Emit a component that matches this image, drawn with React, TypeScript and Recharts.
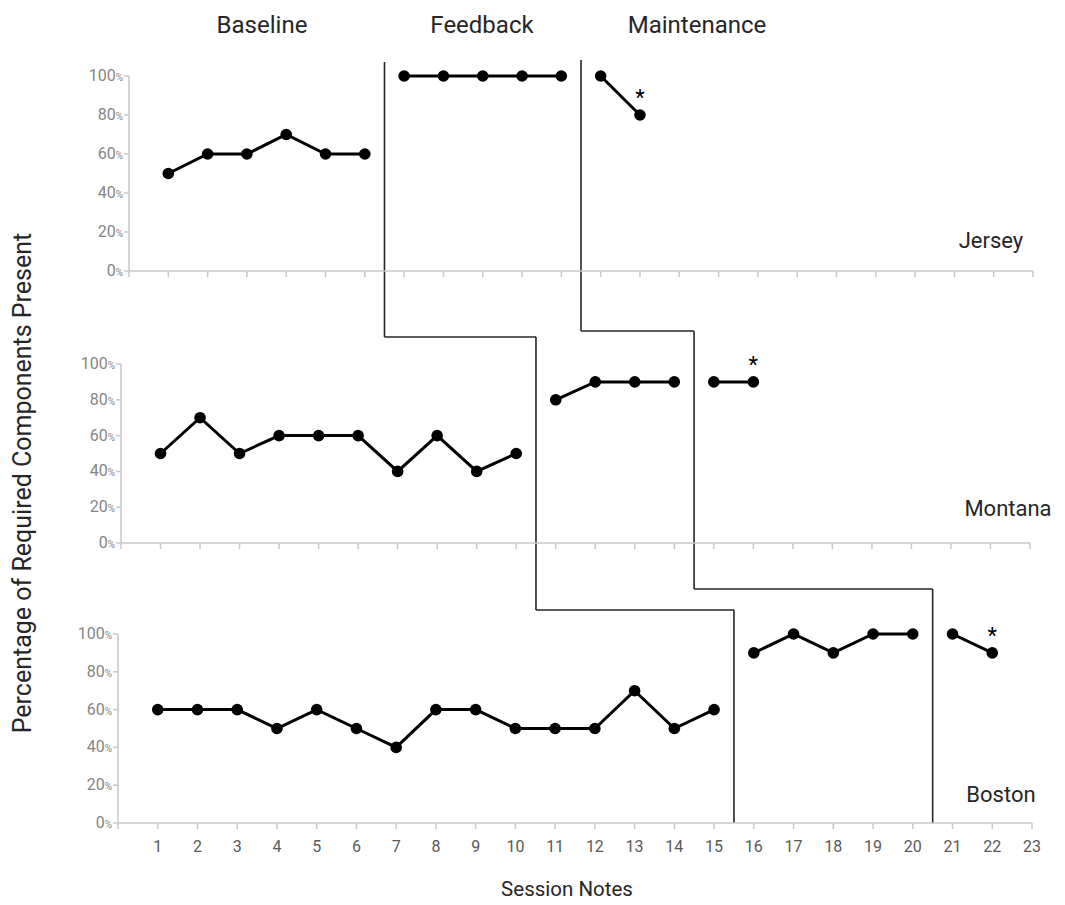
import React from 'react';
import { LineChart, Line, XAxis, YAxis, ReferenceLine } from 'recharts';

// percentage of required components, one array per participant and phase
const JERSEY_BASELINE = [50, 60, 60, 70, 60, 60];
const JERSEY_FEEDBACK = [100, 100, 100, 100, 100];
const JERSEY_MAINTENANCE = [100, 80];

const MONTANA_BASELINE = [50, 70, 50, 60, 60, 60, 40, 60, 40, 50];
const MONTANA_FEEDBACK = [80, 90, 90, 90];
const MONTANA_MAINTENANCE = [90, 90];

const BOSTON_BASELINE = [60, 60, 60, 50, 60, 50, 40, 60, 60, 50, 50, 50, 70, 50, 60];
const BOSTON_FEEDBACK = [90, 100, 90, 100, 100];
const BOSTON_MAINTENANCE = [100, 90];

const PHASE_NAMES = ['Baseline', 'Feedback', 'Maintenance'];
const PARTICIPANTS = ['Jersey', 'Montana', 'Boston'];
const SESSION_TICKS = [0, 1, 2, 3, 4, 5, 6, 7, 8, 9, 10, 11, 12, 13, 14, 15, 16, 17, 18, 19, 20, 21, 22, 23];
const PCT_TICKS = [0, 20, 40, 60, 80, 100];

const W = 1065;
const H = 905;
const Y_AXIS_W = 50;
const X_AXIS_H = 30;
const FONT = 'Roboto, "Noto Sans", sans-serif';

// plot boxes of the three stacked panels
const GEOM = [
  { left: 129, right: 1033, top: 76, bottom: 271 },
  { left: 121, right: 1030, top: 364, bottom: 543 },
  { left: 118, right: 1032, top: 634, bottom: 823 },
];
// pixel heights where each phase-change line starts, steps and ends
const STEP_LEVELS = [
  [62, 337, 610, 823],
  [60, 331, 589, 823],
];
const NAME_POS = [
  { x: 991, y: 240 },
  { x: 1008, y: 508 },
  { x: 1001, y: 794 },
];
const PHASE_TITLE_X = [262, 482, 697];

type Pt = { session: number; pct: number };

const buildPhases = (phases: number[][]): Pt[][] => {
  let s = 1;
  return phases.map((vals) => {
    const pts = vals.map((v, i) => ({ session: s + i, pct: v }));
    s += vals.length;
    return pts;
  });
};

const PANELS = [
  buildPhases([JERSEY_BASELINE, JERSEY_FEEDBACK, JERSEY_MAINTENANCE]),
  buildPhases([MONTANA_BASELINE, MONTANA_FEEDBACK, MONTANA_MAINTENANCE]),
  buildPhases([BOSTON_BASELINE, BOSTON_FEEDBACK, BOSTON_MAINTENANCE]),
];

// phase change sits half a session after each phase's last point
const boundaries = (phases: Pt[][]) =>
  [0, 1].map((k) => phases[k][phases[k].length - 1].session + 0.5);

const pxToPct = (g: typeof GEOM[0], py: number) => ((g.bottom - py) / (g.bottom - g.top)) * 100;
const sessionToPx = (g: typeof GEOM[0], s: number) => g.left + (s / 23) * (g.right - g.left);
const pxToSession = (g: typeof GEOM[0], px: number) => ((px - g.left) / (g.right - g.left)) * 23;

const PctTick = (props: any) => {
  const { x, y, payload } = props;
  return (
    <text x={x} y={y} dy={5} textAnchor="end" fill="#858585" fontFamily={FONT}>
      <tspan fontSize={16}>{payload.value}</tspan>
      <tspan fontSize={10}>%</tspan>
    </text>
  );
};

const starLabel = (last: number) => (props: any) => {
  const { x, y, index } = props;
  if (index !== last) return <g />;
  return (
    <text x={x} y={y - 10} textAnchor="middle" fontSize={22} fill="#000" fontFamily={FONT}>
      *
    </text>
  );
};

function Panel({ idx }: { idx: number }) {
  const phases = PANELS[idx];
  const g = GEOM[idx];
  const next = GEOM[idx + 1];
  const showLabels = idx === 2;
  const bounds = boundaries(phases);
  const nextBounds = idx < 2 ? boundaries(PANELS[idx + 1]) : [];

  return (
    <div style={{ position: 'absolute', left: 0, top: 0 }}>
      <LineChart
        width={W}
        height={H}
        margin={{ top: g.top, right: W - g.right, bottom: H - g.bottom - X_AXIS_H, left: g.left - Y_AXIS_W }}
      >
        <XAxis
          type="number"
          dataKey="session"
          domain={[0, 23]}
          ticks={SESSION_TICKS}
          interval={0}
          height={X_AXIS_H}
          tickSize={6}
          tickMargin={12}
          axisLine={{ stroke: '#c8c8c8', strokeWidth: 1.5 }}
          tickLine={{ stroke: '#c8c8c8', strokeWidth: 1.5 }}
          tick={{ fill: '#595959', fontSize: 16, fontFamily: FONT }}
          tickFormatter={(v: number) => (showLabels && v !== 0 ? String(v) : '')}
        />
        <YAxis
          type="number"
          domain={[0, 100]}
          ticks={PCT_TICKS}
          width={Y_AXIS_W}
          tickSize={5}
          tickMargin={1}
          axisLine={{ stroke: '#c8c8c8', strokeWidth: 1.5 }}
          tickLine={{ stroke: '#c8c8c8', strokeWidth: 1.5 }}
          tick={<PctTick />}
        />
        {STEP_LEVELS.map((lv, k) => {
          const yTop = pxToPct(g, lv[idx]);
          const yBot = pxToPct(g, lv[idx + 1]);
          return (
            <ReferenceLine
              key={`v${k}`}
              segment={[
                { x: bounds[k], y: yTop },
                { x: bounds[k], y: yBot },
              ]}
              stroke="#262626"
              strokeWidth={1.6}
              ifOverflow="visible"
            />
          );
        })}
        {idx < 2 &&
          STEP_LEVELS.map((lv, k) => {
            const yLvl = pxToPct(g, lv[idx + 1]);
            const xEnd = pxToSession(g, sessionToPx(next, nextBounds[k]));
            return (
              <ReferenceLine
                key={`h${k}`}
                segment={[
                  { x: bounds[k], y: yLvl },
                  { x: xEnd, y: yLvl },
                ]}
                stroke="#262626"
                strokeWidth={1.6}
                ifOverflow="visible"
              />
            );
          })}
        {phases.map((pts, k) => (
          <Line
            key={k}
            data={pts}
            dataKey="pct"
            stroke="#000"
            strokeWidth={3}
            dot={{ r: 5.8, fill: '#000', stroke: '#000', strokeWidth: 0 }}
            activeDot={false}
            isAnimationActive={false}
            label={k === 2 ? starLabel(pts.length - 1) : undefined}
          />
        ))}
      </LineChart>
    </div>
  );
}

export default function App() {
  const txt = { fill: '#262626', fontFamily: FONT } as const;
  return (
    <div style={{ position: 'relative', width: W, height: H, margin: '-8px 0 0 -8px', background: '#fff' }}>
      {[0, 1, 2].map((i) => (
        <Panel key={i} idx={i} />
      ))}
      <svg width={W} height={H} style={{ position: 'absolute', left: 0, top: 0, pointerEvents: 'none' }}>
        {PHASE_NAMES.map((n, i) => (
          <text key={n} x={PHASE_TITLE_X[i]} y={25} textAnchor="middle" dominantBaseline="central" fontSize={24} {...txt}>
            {n}
          </text>
        ))}
        {PARTICIPANTS.map((n, i) => (
          <text key={n} x={NAME_POS[i].x} y={NAME_POS[i].y} textAnchor="middle" dominantBaseline="central" fontSize={22} {...txt}>
            {n}
          </text>
        ))}
        <text x={567} y={889} textAnchor="middle" dominantBaseline="central" fontSize={20.5} {...txt}>
          Session Notes
        </text>
        <text
          x={22}
          y={483}
          transform="rotate(-90 22 483)"
          textAnchor="middle"
          dominantBaseline="central"
          fontSize={25}
          {...txt}
        >
          Percentage of Required Components Present
        </text>
      </svg>
    </div>
  );
}
